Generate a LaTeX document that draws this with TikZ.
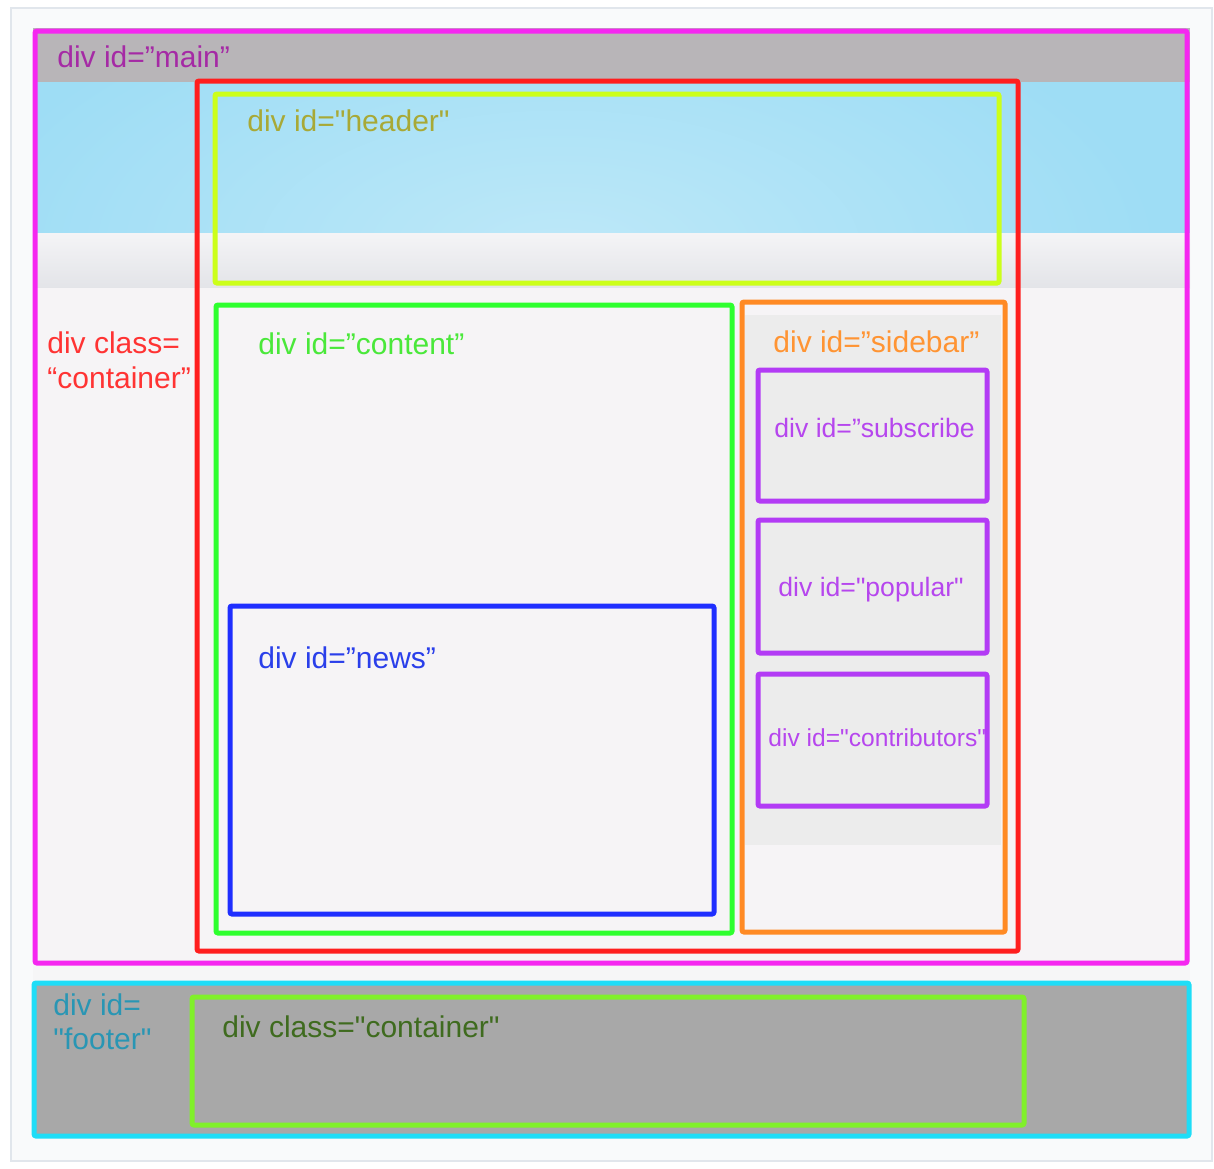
\documentclass[tikz,border=0pt]{standalone}
\usepackage{fontspec}
\setmainfont{Liberation Sans}[Ligatures=TeXOff]
\definecolor{pageBg}{HTML}{F9FAFB}
\definecolor{pageRule}{HTML}{E1E6EC}
\definecolor{bandGray}{HTML}{B8B5B8}
\definecolor{skyBlue}{HTML}{9EDDF5}
\definecolor{skyGlow}{HTML}{BDE8F8}
\definecolor{bandTop}{HTML}{F4F4F6}
\definecolor{bandBot}{HTML}{E3E4E8}
\definecolor{bodyBg}{HTML}{F6F4F6}
\definecolor{gapBg}{HTML}{F6F6F7}
\definecolor{sideGray}{HTML}{ECECEC}
\definecolor{footGray}{HTML}{A8A8A8}
\definecolor{mainPink}{HTML}{F527F0}
\definecolor{contRed}{HTML}{FF1E1E}
\definecolor{headYellow}{HTML}{CCFF1A}
\definecolor{contGreen}{HTML}{2EFF2E}
\definecolor{sideOrange}{HTML}{FF8A24}
\definecolor{subPurple}{HTML}{B33BF5}
\definecolor{newsBlue}{HTML}{1F2EFF}
\definecolor{footCyan}{HTML}{1FDDF7}
\definecolor{footGreen}{HTML}{80F02A}
\definecolor{txtMain}{HTML}{A52AA5}
\definecolor{txtHead}{HTML}{A8A936}
\definecolor{txtRed}{HTML}{FF3333}
\definecolor{txtGreen}{HTML}{4AE83A}
\definecolor{txtOrange}{HTML}{FF9433}
\definecolor{txtPurple}{HTML}{B646EE}
\definecolor{txtBlue}{HTML}{2A3FEA}
\definecolor{txtTeal}{HTML}{2996B4}
\definecolor{txtDark}{HTML}{3F6B1F}
\begin{document}
\begin{tikzpicture}[x=0.5pt,y=-0.5pt,
    box/.style={line width=2.5pt,rounded corners=1pt},
    lbl/.style={anchor=base west,inner sep=0pt,font=\fontsize{15}{18}\selectfont},
    sublbl/.style={lbl,font=\fontsize{13.3}{16}\selectfont}]
\useasboundingbox (0,0) rectangle (1214,1168);

% page and bands
\draw[fill=pageBg,draw=pageRule,line width=1pt] (11,8) rectangle (1212,1161);
\fill[bandGray] (33,28) rectangle (1190,82);
\fill[skyBlue] (33,82) rectangle (1190,233);
\begin{scope}
  \clip (33,82) rectangle (1190,233);
  \shade[inner color=skyGlow,outer color=skyBlue] (560,250) ellipse (600 and 280);
\end{scope}
\shade[top color=bandTop,bottom color=bandBot] (33,233) rectangle (1190,288);
\fill[bodyBg] (33,288) rectangle (1190,965);
\fill[gapBg] (33,965) rectangle (1190,981);
\fill[sideGray] (745,315) rectangle (1001,845);

% boxes
\draw[box,mainPink] (35,31) rectangle (1187,963);
\draw[box,contRed] (197,81) rectangle (1018,951);
\draw[box,headYellow] (215,94) rectangle (999,283);
\draw[box,contGreen] (216,305) rectangle (732,933);
\draw[box,sideOrange] (742,302) rectangle (1005,932);
\draw[box,subPurple] (758,370) rectangle (987,501);
\draw[box,subPurple] (758,520) rectangle (987,653);
\draw[box,subPurple] (758,674) rectangle (987,806);
\draw[box,newsBlue] (230,606) rectangle (714,914);
\draw[box,footCyan,fill=footGray] (34,983) rectangle (1189,1136);
\draw[box,footGreen] (192,997) rectangle (1024,1125);

% labels
\node[lbl,text=txtMain] (mainlbl) at (57,67) {div id=”main”};
\node[lbl,text=txtHead] (headlbl) at (247,131) {div id="header"};
\node[lbl,text=txtRed] (contlbla) at (47,353) {div class=};
\node[lbl,text=txtRed] (contlblb) at (47,388) {“container”};
\node[lbl,text=txtGreen] (contentlbl) at (258,354) {div id=”content”};
\node[lbl,text=txtOrange] (sidelbl) at (773,352) {div id=”sidebar”};
\node[sublbl,text=txtPurple] (sublbl) at (774,437) {div id=”subscribe};
\node[sublbl,text=txtPurple] (poplbl) at (778,596) {div id="popular"};
\node[sublbl,text=txtPurple,font=\fontsize{12.3}{15}\selectfont] (contriblbl) at (768,746) {div id="contributors"};
\node[lbl,text=txtBlue] (newslbl) at (258,668) {div id=”news”};
\node[lbl,text=txtTeal] (footlbla) at (53,1015) {div id=};
\node[lbl,text=txtTeal] (footlblb) at (53,1049) {"footer"};
\node[lbl,text=txtDark] (footcontlbl) at (222,1037) {div class="container"};
\end{tikzpicture}
\end{document}
